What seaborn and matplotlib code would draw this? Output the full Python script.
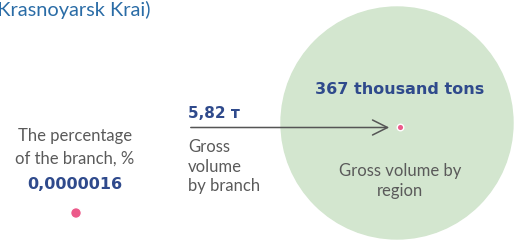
import matplotlib
matplotlib.use("Agg")
import matplotlib.pyplot as plt
from matplotlib.patches import Circle
import pandas as pd
import seaborn as sns

# values shown on the chart
share_label = "0,0000016"
branch_label = "5,82 т"
region_label = "367 thousand tons"
branch_caption = ["Gross", "volume", "by branch"]
region_caption = ["Gross volume by", "region"]
share_caption = ["The percentage", "of the branch, %"]
title = "(Krasnoyarsk Krai)"

sns.set_theme(style="white")
plt.rcParams["font.family"] = ["Lato", "DejaVu Sans"]

BLUE = "#2f4a8c"
GREY = "#5a5a5a"
PINK = "#ec5a8a"
GREEN = "#d3e6cf"
BOLD = ["DejaVu Sans"]

fig = plt.figure(figsize=(5.14, 2.43), dpi=100)
ax = fig.add_axes([0, 0, 1, 1])
ax.set_xlim(0, 514)
ax.set_ylim(243, 0)
ax.axis("off")

# big region circle
ax.add_patch(Circle((397, 123), 116, color=GREEN, zorder=0))

# title (cut at the left edge, as in the source image)
ax.text(151, 16, title, ha="right", va="baseline", fontsize=14.4, color="#2a6ca6")

# left block
ax.text(75, 141, share_caption[0], ha="center", va="baseline", fontsize=12, color=GREY)
ax.text(75, 164, share_caption[1], ha="center", va="baseline", fontsize=12, color=GREY)
ax.text(75, 189, share_label, ha="center", va="baseline", fontsize=11.5,
        fontweight="bold", color=BLUE, family=BOLD)

# middle block
ax.text(188, 118, branch_label, ha="left", va="baseline", fontsize=11,
        fontweight="bold", color=BLUE, family=BOLD)
for i, line in enumerate(branch_caption):
    ax.text(188, 152 + i * 19.5, line, ha="left", va="baseline", fontsize=12, color=GREY)

# arrow from branch to region
ax.annotate("", xy=(392, 127.5), xytext=(188, 127.5),
            arrowprops=dict(arrowstyle="->,head_length=0.9,head_width=0.45",
                            color="#555555", lw=1.1))

# right block
ax.text(400, 94, region_label, ha="center", va="baseline", fontsize=11.5,
        fontweight="bold", color=BLUE, family=BOLD)
ax.text(400, 176, region_caption[0], ha="center", va="baseline", fontsize=12, color=GREY)
ax.text(400, 196, region_caption[1], ha="center", va="baseline", fontsize=12, color=GREY)

# dots
dots = pd.DataFrame({"x": [76, 400.5], "y": [213, 127.5], "s": [60, 22]})
sns.scatterplot(data=dots, x="x", y="y", size="s", sizes=(22, 60), color=PINK,
                edgecolor="white", linewidth=1, legend=False, ax=ax, zorder=5)
ax.set_xlim(0, 514)
ax.set_ylim(243, 0)
ax.axis("off")

fig.savefig("out.png", dpi=100)
